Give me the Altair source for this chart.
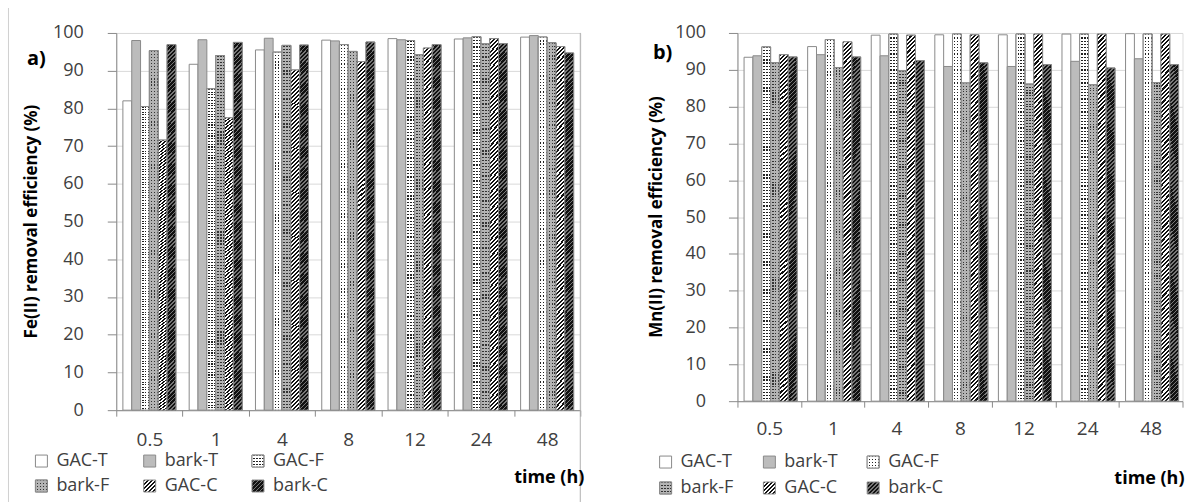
import altair as alt
import pandas as pd

# ---- data -------------------------------------------------------------
times = ["0.5", "1", "4", "8", "12", "24", "48"]
series = ["GAC-T", "bark-T", "GAC-F", "bark-F", "GAC-C", "bark-C"]

# a) Fe(II) removal efficiency (%)
fe_gac_t = [82.0, 91.7, 95.5, 98.1, 98.5, 98.4, 98.9]
fe_bark_t = [98.0, 98.2, 98.6, 97.9, 98.2, 98.7, 99.3]
fe_gac_f = [80.5, 85.2, 94.9, 96.9, 98.0, 99.0, 98.9]
fe_bark_f = [95.3, 94.0, 96.7, 95.1, 94.2, 97.1, 97.4]
fe_gac_c = [71.6, 77.5, 90.2, 92.4, 96.0, 98.5, 96.4]
fe_bark_c = [96.9, 97.5, 96.8, 97.6, 96.9, 97.2, 94.7]

# b) Mn(II) removal efficiency (%)
mn_gac_t = [93.4, 96.3, 99.4, 99.5, 99.5, 99.7, 99.8]
mn_bark_t = [93.8, 94.1, 93.8, 90.9, 90.9, 92.3, 93.0]
mn_gac_f = [96.2, 98.2, 99.7, 99.7, 99.7, 99.7, 99.7]
mn_bark_f = [91.9, 90.6, 89.7, 86.4, 86.1, 85.9, 86.5]
mn_gac_c = [94.1, 97.6, 99.4, 99.5, 99.7, 99.7, 99.7]
mn_bark_c = [93.5, 93.5, 92.5, 91.9, 91.4, 90.5, 91.4]

# ---- style ------------------------------------------------------------
FONT = "Open Sans"
EDGE = "#8a8a8a"
TEXT = "#404040"
GRAY = "#bcbcbc"
base_colors = ["#ffffff", GRAY, "#ffffff", GRAY, "#ffffff", "#ffffff"]


def stripes(n, c1, c2, frac, x2, y2):
    """Hard-edged repeating gradient: n cycles of c1 (share frac) then c2."""
    stops = []
    for i in range(n):
        a, b, c = i / n, (i + frac) / n, (i + 1) / n
        stops += [
            alt.GradientStop(color=c1, offset=round(a, 5)),
            alt.GradientStop(color=c1, offset=round(b, 5)),
            alt.GradientStop(color=c2, offset=round(b, 5)),
            alt.GradientStop(color=c2, offset=round(c, 5)),
        ]
    return alt.LinearGradient(gradient="linear", stops=stops, x1=0, y1=0, x2=x2, y2=y2)


def fills(bar_w, bar_h, square):
    """Pattern fills for bars (bar_w x bar_h) and for legend squares."""
    k = 1.08                      # stretch so the hatch covers the whole bar
    hatch_v = bar_w / bar_h
    n_hatch = int(bar_h * k / 4)
    n_rows = int(bar_h / 3)
    bars = {
        "GAC-C": [stripes(n_hatch, "#111111", "#ffffff", 0.5, hatch_v * k, k)],
        "bark-C": [stripes(n_hatch, "#111111", "#777777", 0.62, hatch_v * k, k)],
        "GAC-F": [stripes(n_rows, "#222222", "#ffffff", 0.38, 0, 1),
                  stripes(3, "#ffffff", "rgba(255,255,255,0)", 0.5, 1, 0)],
        "bark-F": [stripes(n_rows, "#333333", "#b4b4b4", 0.38, 0, 1),
                   stripes(3, "#b4b4b4", "rgba(180,180,180,0)", 0.5, 1, 0)],
    }
    kk = max(2, int(square * 2 / 4))
    r = max(2, int(square / 3))
    legend = {
        "GAC-T": ["#ffffff"],
        "bark-T": [GRAY],
        "GAC-C": [stripes(kk, "#111111", "#ffffff", 0.5, 1, 1)],
        "bark-C": [stripes(kk, "#111111", "#777777", 0.62, 1, 1)],
        "GAC-F": [stripes(r, "#222222", "#ffffff", 0.38, 0, 1),
                  stripes(r, "#ffffff", "rgba(255,255,255,0)", 0.5, 1, 0)],
        "bark-F": [stripes(r, "#333333", "#b4b4b4", 0.38, 0, 1),
                   stripes(r, "#b4b4b4", "rgba(180,180,180,0)", 0.5, 1, 0)],
    }
    return bars, legend


def one_row():
    return pd.DataFrame({"k": [0]})


def panel(values, ytitle, tag, width, height, geo):
    df = pd.DataFrame(
        [{"time": t, "series": s, "value": v}
         for s, vals in zip(series, values) for t, v in zip(times, vals)]
    )
    step = width / len(times)
    bar_w = step / (len(series) + 1.5)
    bar_fills, legend_fills = fills(bar_w, height * 0.93, geo["sq"])

    x_axis = alt.Axis(tickBand="extent", tickSize=6, tickColor=EDGE, domainColor=EDGE,
                      labelAngle=0, labelFontSize=19, labelColor=TEXT, labelFont=FONT,
                      labelPadding=geo["xlabpad"], grid=False, title=None)
    y_axis = alt.Axis(values=list(range(0, 101, 10)), tickSize=9, tickColor=EDGE,
                      domainColor=EDGE, labelFontSize=18, labelColor=TEXT, labelFont=FONT,
                      labelPadding=geo["ylabpad"], grid=True, gridColor="#d9d9d9", title=None)

    enc = dict(
        x=alt.X("time:N", sort=times,
                scale=alt.Scale(paddingInner=0, paddingOuter=0), axis=x_axis),
        xOffset=alt.XOffset("series:N", sort=series,
                            scale=alt.Scale(domain=series, paddingInner=0, paddingOuter=0.75)),
        y=alt.Y("value:Q", stack=None,
                scale=alt.Scale(domain=[0, 100], nice=False), axis=y_axis),
    )

    layers = [
        alt.Chart(df).mark_bar(stroke=EDGE, strokeWidth=1).encode(
            fill=alt.Fill("series:N", scale=alt.Scale(domain=series, range=base_colors), legend=None),
            **enc,
        )
    ]
    for name in ["GAC-F", "bark-F", "GAC-C", "bark-C"]:
        for g in bar_fills[name]:
            layers.append(
                alt.Chart(df).transform_filter(alt.datum.series == name)
                .mark_bar(fill=g, stroke=EDGE, strokeWidth=1).encode(**enc)
            )

    # frame / border lines
    for r in geo["rules"]:
        layers.append(alt.Chart(one_row()).mark_rule(color=r["color"], strokeWidth=1).encode(
            x=alt.value(r["x"]), y=alt.value(r["y1"]), y2=alt.value(r["y2"])))

    # panel tag and axis titles
    layers.append(alt.Chart(one_row()).mark_text(
        text=tag, font=FONT, fontSize=20, fontWeight="bold", color="#000000",
        align="center", baseline="middle").encode(
        x=alt.value(geo["tag"][0]), y=alt.value(geo["tag"][1])))
    layers.append(alt.Chart(one_row()).mark_text(
        text=ytitle, font=FONT, fontSize=17, fontWeight="bold", color="#000000",
        angle=270, align="center", baseline="middle").encode(
        x=alt.value(geo["ytitle_x"]), y=alt.value(height / 2)))
    layers.append(alt.Chart(one_row()).mark_text(
        text="time (h)", font=FONT, fontSize=18, fontWeight="bold", color="#000000",
        align="right", baseline="middle").encode(
        x=alt.value(geo["xtitle"][0]), y=alt.value(geo["xtitle"][1])))

    # legend: 3 columns x 2 rows of swatches and names
    sq = geo["sq"]
    for i, name in enumerate(series):
        col, row = i % 3, i // 3
        lx = geo["leg_x"] + col * geo["leg_dx"]
        ly = geo["leg_y"][row]
        for g in legend_fills[name]:
            layers.append(alt.Chart(one_row()).mark_rect(fill=g, stroke=EDGE, strokeWidth=1).encode(
                x=alt.value(lx), x2=alt.value(lx + sq),
                y=alt.value(ly - sq / 2), y2=alt.value(ly + sq / 2)))
        layers.append(alt.Chart(pd.DataFrame({"name": [name]})).mark_text(
            font=FONT, fontSize=18, color=TEXT, align="left", baseline="middle").encode(
            text="name:N", x=alt.value(lx + sq + geo["leg_gap"]), y=alt.value(ly)))

    return alt.layer(*layers).properties(width=width, height=height)


W_A, H_A = 465, 378
W_B, H_B = 446, 369

geo_a = dict(
    xlabpad=14, ylabpad=24, sq=12, leg_x=-81, leg_dx=108.5, leg_y=[H_A + 51, H_A + 76], leg_gap=9,
    tag=(-80, 26), ytitle_x=-84, xtitle=(W_A + 4, H_A + 68),
    rules=[dict(x=-108, y1=-25, y2=H_A + 92, color="#d0d0d0"),
           dict(x=W_A, y1=0, y2=H_A + 92, color="#b0b0b0")],
)
geo_b = dict(
    xlabpad=12, ylabpad=23, sq=12, leg_x=-78, leg_dx=104, leg_y=[H_B + 61, H_B + 87], leg_gap=9,
    tag=(-75, 20), ytitle_x=-81, xtitle=(W_B + 2, H_B + 78),
    rules=[dict(x=-141, y1=-24, y2=H_B + 20, color="#ffffff")],
)

left = panel([fe_gac_t, fe_bark_t, fe_gac_f, fe_bark_f, fe_gac_c, fe_bark_c],
             "Fe(II) removal efficiency (%)", "a)", W_A, H_A, geo_a)
right = panel([mn_gac_t, mn_bark_t, mn_gac_f, mn_bark_f, mn_gac_c, mn_bark_c],
              "Mn(II) removal efficiency (%)", "b)", W_B, H_B, geo_b)

chart = (
    alt.hconcat(left, right, spacing=10.5)
    .properties(padding={"left": 7.5, "top": 6.5, "right": 2, "bottom": 0}, background="#ffffff")
    .configure_view(stroke="#a6a6a6", strokeWidth=1)
    .configure(font=FONT)
)

chart.save("out.html", embed_options={"renderer": "svg", "actions": False})
